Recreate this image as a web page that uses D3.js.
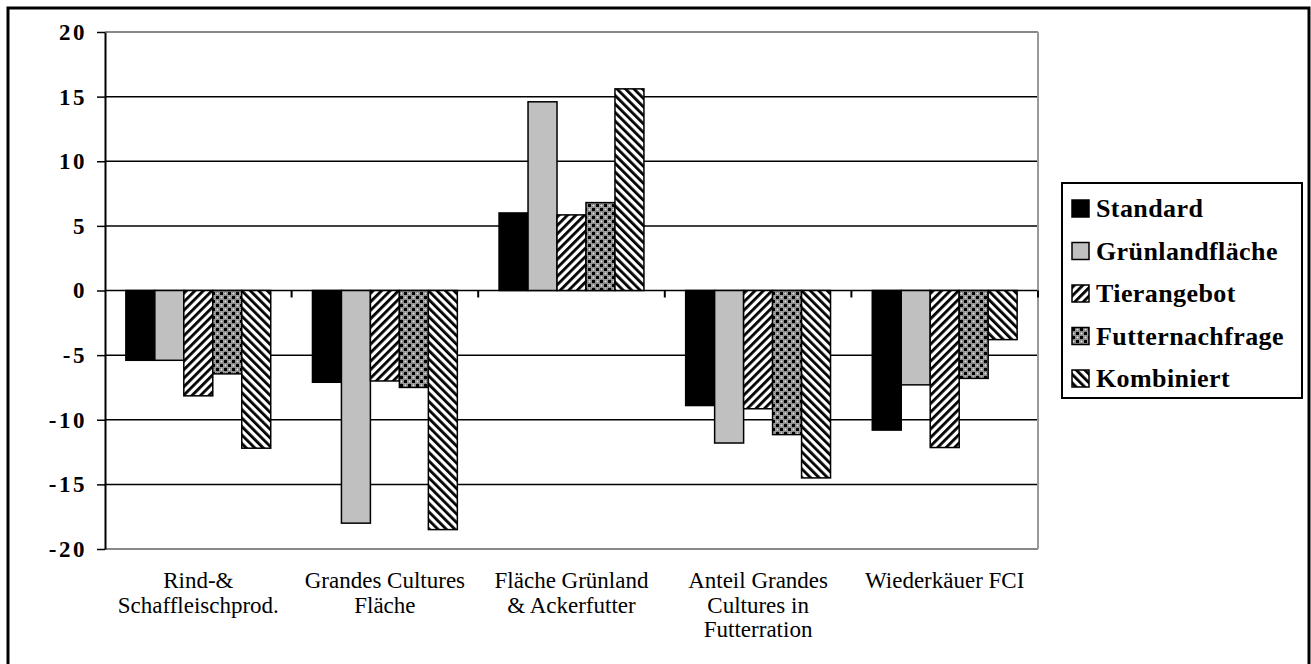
<!DOCTYPE html>
<html>
<head>
<meta charset="utf-8">
<script src="https://cdn.jsdelivr.net/npm/d3@7"></script>
<style>
  body { margin: 0; background: #fff; }
  svg { display: block; }
</style>
</head>
<body>
<div id="chart"></div>
<script>
const categories = [
  ["Rind-&", "Schaffleischprod."],
  ["Grandes Cultures", "Fläche"],
  ["Fläche Grünland", "& Ackerfutter"],
  ["Anteil Grandes", "Cultures in", "Futterration"],
  ["Wiederkäuer FCI"]
];
const series = ["Standard", "Grünlandfläche", "Tierangebot", "Futternachfrage", "Kombiniert"];

const standard      = [-5.4, -7.1,  6.0,  -8.9, -10.8];
const gruenland     = [-5.4, -18.0, 14.6, -11.8, -7.3];
const tierangebot   = [-8.15, -7.0, 5.85, -9.15, -12.15];
const futter        = [-6.45, -7.5, 6.8, -11.15, -6.8];
const kombiniert    = [-12.2, -18.5, 15.6, -14.5, -3.8];

const yTicks = [-20, -15, -10, -5, 0, 5, 10, 15, 20];

const values = [standard, gruenland, tierangebot, futter, kombiniert];
const catKeys = categories.map(c => c.join(" "));

const width = 1311, height = 664;
const plot = { left: 105, right: 1038, top: 32, bottom: 549 };

const svg = d3.select("#chart").append("svg")
  .attr("width", width)
  .attr("height", height);

// patterns
const defs = svg.append("defs");
const p1 = defs.append("pattern")
  .attr("id", "fwd").attr("patternUnits", "userSpaceOnUse")
  .attr("width", 6).attr("height", 6)
  .attr("patternTransform", "rotate(45)");
p1.append("rect").attr("width", 6).attr("height", 6).attr("fill", "#fff");
p1.append("rect").attr("x", 0).attr("width", 2.8).attr("height", 6).attr("fill", "#000");

const p2 = defs.append("pattern")
  .attr("id", "back").attr("patternUnits", "userSpaceOnUse")
  .attr("width", 6).attr("height", 6)
  .attr("patternTransform", "rotate(-45)");
p2.append("rect").attr("width", 6).attr("height", 6).attr("fill", "#fff");
p2.append("rect").attr("x", 0).attr("width", 2.8).attr("height", 6).attr("fill", "#000");

const p3 = defs.append("pattern")
  .attr("id", "dots").attr("patternUnits", "userSpaceOnUse")
  .attr("width", 8).attr("height", 8);
p3.append("rect").attr("width", 8).attr("height", 8).attr("fill", "#9a9a9a");
p3.append("rect").attr("x", 0).attr("y", 0).attr("width", 3).attr("height", 3).attr("fill", "#000");
p3.append("rect").attr("x", 4).attr("y", 4).attr("width", 3).attr("height", 3).attr("fill", "#000");
p3.append("circle").attr("cx", 5.5).attr("cy", 1.5).attr("r", 1.6).attr("fill", "#d8d8d8").attr("stroke", "#444").attr("stroke-width", 0.6);
p3.append("circle").attr("cx", 1.5).attr("cy", 5.5).attr("r", 1.6).attr("fill", "#d8d8d8").attr("stroke", "#444").attr("stroke-width", 0.6);

const fills = ["#000", "#c0c0c0", "url(#fwd)", "url(#dots)", "url(#back)"];

// outer frame
svg.append("rect")
  .attr("x", 8).attr("y", 8)
  .attr("width", 1301).attr("height", 700)
  .attr("fill", "none").attr("stroke", "#000").attr("stroke-width", 3);

const y = d3.scaleLinear().domain([-20, 20]).range([plot.bottom, plot.top]);
const x0 = d3.scaleBand().domain(catKeys).range([plot.left, plot.right]);
const x1 = d3.scaleBand().domain(series).range([0, x0.bandwidth()]).paddingOuter(0.72);

// grid lines
svg.append("g")
  .selectAll("line")
  .data(yTicks)
  .join("line")
  .attr("x1", plot.left).attr("x2", plot.right)
  .attr("y1", d => y(d)).attr("y2", d => y(d))
  .attr("stroke", d => (d === 20 || d === -20) ? "#888" : "#000")
  .attr("stroke-width", d => (d === 20 || d === -20) ? 2 : 1.5);

// right border of plot area
svg.append("line")
  .attr("x1", plot.right).attr("x2", plot.right)
  .attr("y1", plot.top).attr("y2", plot.bottom)
  .attr("stroke", "#999").attr("stroke-width", 2);

// bars
const g = svg.append("g");
series.forEach((s, si) => {
  g.append("g")
    .selectAll("rect")
    .data(values[si])
    .join("rect")
    .attr("x", (d, i) => x0(catKeys[i]) + x1(s))
    .attr("y", d => y(Math.max(0, d)))
    .attr("width", x1.bandwidth())
    .attr("height", d => Math.abs(y(d) - y(0)))
    .attr("fill", fills[si])
    .attr("stroke", "#000")
    .attr("stroke-width", 1.5);
});

// y axis
const yAxis = svg.append("g")
  .attr("transform", `translate(${plot.left},0)`)
  .call(d3.axisLeft(y).tickValues(yTicks).tickFormat(d => String(d))
    .tickSize(8).tickSizeOuter(0).tickPadding(10));
yAxis.select(".domain").attr("stroke", "#000").attr("stroke-width", 2);
yAxis.selectAll(".tick line").attr("stroke", "#000").attr("stroke-width", 1.5);
yAxis.selectAll("text")
  .attr("font-family", "Liberation Serif, serif")
  .attr("font-weight", "bold")
  .attr("font-size", 23)
  .attr("letter-spacing", 2.5)
  .attr("fill", "#000");

// category ticks on zero line
const bounds = catKeys.map(k => x0(k)).concat([plot.right]).slice(1);
svg.append("g")
  .selectAll("line")
  .data(bounds)
  .join("line")
  .attr("x1", d => d).attr("x2", d => d)
  .attr("y1", y(0)).attr("y2", y(0) + 7)
  .attr("stroke", "#000").attr("stroke-width", 2);

// x labels
const xl = svg.append("g");
categories.forEach((lines, i) => {
  const cx = x0(catKeys[i]) + x0.bandwidth() / 2;
  lines.forEach((t, li) => {
    xl.append("text")
      .attr("x", cx)
      .attr("y", 588 + li * 24.5)
      .attr("text-anchor", "middle")
      .attr("font-family", "Liberation Serif, serif")
      .attr("font-size", 23)
      .attr("fill", "#000")
      .text(t);
  });
});

// legend
const lg = svg.append("g");
lg.append("rect")
  .attr("x", 1062).attr("y", 183)
  .attr("width", 240).attr("height", 215)
  .attr("fill", "#fff").attr("stroke", "#000").attr("stroke-width", 2);
series.forEach((s, i) => {
  const cy = 208 + i * 42.5;
  lg.append("rect")
    .attr("x", 1072).attr("y", cy - 8)
    .attr("width", 17).attr("height", 17)
    .attr("fill", fills[i]).attr("stroke", "#000").attr("stroke-width", 1.5);
  lg.append("text")
    .attr("x", 1096).attr("y", cy + 9)
    .attr("font-family", "Liberation Serif, serif")
    .attr("font-weight", "bold")
    .attr("font-size", 26)
    .attr("letter-spacing", 0.4)
    .attr("fill", "#000")
    .text(s);
});
</script>
</body>
</html>
